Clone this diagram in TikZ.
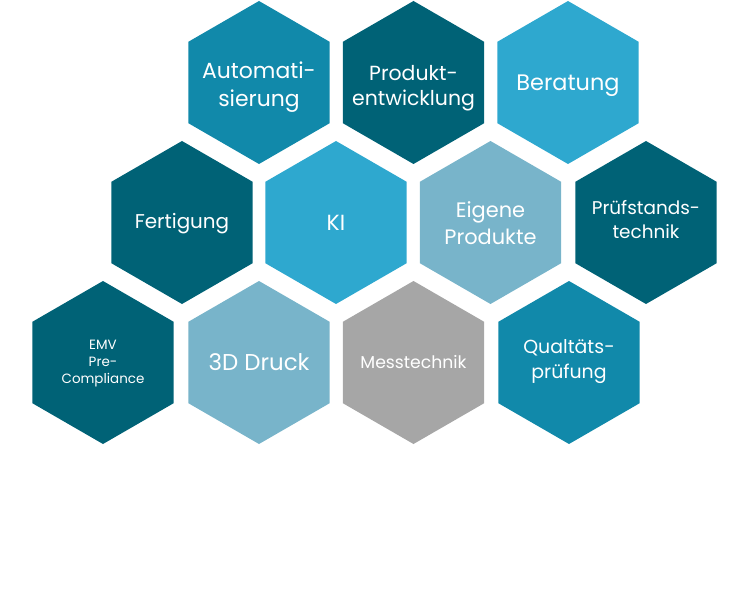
\documentclass[tikz,border=0pt]{standalone}
\usepackage{fontspec}
\newfontfamily\hexfont{Poppins}
\usetikzlibrary{shapes.geometric}

\definecolor{hexdark}{RGB}{0,98,118}
\definecolor{hexmid}{RGB}{17,137,170}
\definecolor{hexlight}{RGB}{46,168,207}
\definecolor{hexpale}{RGB}{120,180,202}
\definecolor{hexgray}{RGB}{166,166,166}

\begin{document}
\begin{tikzpicture}[
            x=1bp, y=-1bp,
            hex/.style={regular polygon, regular polygon sides=6, shape border rotate=30, minimum size=163bp, inner sep=0pt, draw=none},
            hextext/.style n args={2}{text=white, align=center, inner sep=0pt, font=\hexfont\fontsize{#1}{#2}\selectfont}
        ]
            \useasboundingbox (0,0) rectangle (755,600);

            % --- erste Reihe ---
            \node[hex, fill=hexmid, label={[hextext={22}{28}, yshift=-5bp]center:Automati-\\sierung}] (automation) at (259,82.5) {};
            \node[hex, fill=hexdark, label={[hextext={20.5}{25}, yshift=-6bp]center:Produkt-\\entwicklung}] (development) at (413.5,82.5) {};
            \node[hex, fill=hexlight, label={[hextext={22.5}{28}, yshift=-3.5bp]center:Beratung}] (consulting) at (568,82.5) {};

            % --- zweite Reihe ---
            \node[hex, fill=hexdark, label={[hextext={20}{25}, yshift=-1bp]center:Fertigung}] (production) at (182,222.5) {};
            \node[hex, fill=hexlight, label={[hextext={22}{28}]center:KI}] (ai) at (336,222.5) {};
            \node[hex, fill=hexpale, label={[hextext={21}{27}, yshift=-1bp]center:Eigene\\Produkte}] (products) at (490.5,222.5) {};
            \node[hex, fill=hexdark, label={[hextext={18.5}{25}, yshift=3bp]center:Prüfstands-\\technik}] (teststand) at (646,222.5) {};

            % --- dritte Reihe ---
            \node[hex, fill=hexdark, label={[hextext={13.5}{17}, yshift=-1bp]center:EMV\\Pre-\\Compliance}] (emc) at (103,362.5) {};
            \node[hex, fill=hexpale, label={[hextext={23}{28}]center:3D Druck}] (printing) at (259,362.5) {};
            \node[hex, fill=hexgray, label={[hextext={17.3}{22}]center:Messtechnik}] (measurement) at (413.5,362.5) {};
            \node[hex, fill=hexmid, label={[hextext={19}{25}, yshift=1bp]center:Qualtäts-\\prüfung}] (quality) at (569,362.5) {};

        \end{tikzpicture}
\end{document}
